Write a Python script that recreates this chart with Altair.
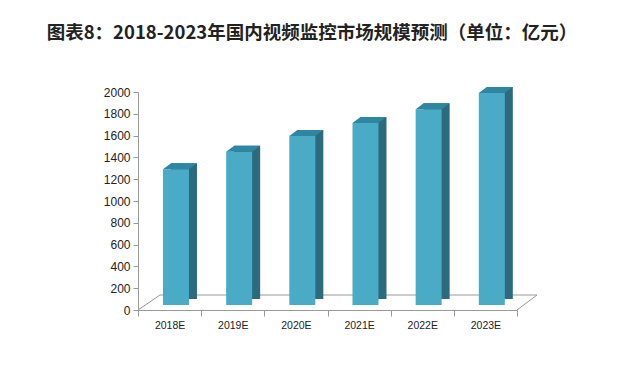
import altair as alt
import pandas as pd

years = ["2018E", "2019E", "2020E", "2021E", "2022E", "2023E"]
values = [1245, 1405, 1550, 1670, 1795, 1945]
ticks = [0, 200, 400, 600, 800, 1000, 1200, 1400, 1600, 1800, 2000]
title_text = "图表8：2018-2023年国内视频监控市场规模预测（单位：亿元）"

FRONT = "#4aabc6"
TOP = "#2f86a0"
SIDE = "#2b6b7d"
W, H = 379, 218

df = pd.DataFrame({"year": years, "value": values, "zero": [0] * len(years)})

x = alt.X("year:N", sort=years, title=None,
          scale=alt.Scale(paddingInner=0, paddingOuter=0),
          axis=alt.Axis(labelAngle=0, tickBand="extent", tickSize=6, tickColor="#999",
                        domainColor="#999", labelFontSize=10.5, labelColor="#222",
                        labelPadding=4, labelFont="Liberation Sans"))
yscale = alt.Scale(domain=[0, 2000], nice=False)
yaxis = alt.Axis(values=ticks, format="d", labelOverlap=False,
                 labelFlush=False, grid=False, tickSize=5,
                 tickColor="#999", domainColor="#999", labelFontSize=12,
                 labelColor="#222", labelPadding=3, labelFont="Liberation Sans")
y = alt.Y("value:Q", title=None, scale=yscale, axis=yaxis)
y0 = alt.Y("zero:Q", title=None, scale=yscale, axis=yaxis)

base = alt.Chart(df)

side = base.mark_bar(width=26, color=SIDE, xOffset=14.4, yOffset=-11).encode(x=x, y=y)
front = base.mark_bar(width=26, color=FRONT, xOffset=6.4, yOffset=-5).encode(x=x, y=y)
top = base.mark_point(shape="M -0.66 -0.5 L 1.94 -0.5 L 2.74 -1.1 L 0.14 -1.1 Z",
                      size=400, filled=True, color=TOP, opacity=1, strokeWidth=0).encode(x=x, y=y)
cut = base.mark_point(shape="M 1.94 -0.5 L 2.74 -1.1 L 2.74 -0.4 L 1.94 -0.4 Z",
                      size=400, filled=True, color="white", opacity=1, strokeWidth=0).encode(
    x=x, y=y0)

floor_df = pd.DataFrame({"x1": [0, 22, 399], "y1": [H, H - 15, H - 15],
                         "x2": [22, 399, 379], "y2": [H - 15, H - 15, H]})
floor = alt.Chart(floor_df).mark_rule(color="#999", strokeWidth=1).encode(
    x=alt.X("x1:Q", scale=None, axis=None), x2="x2:Q",
    y=alt.Y("y1:Q", scale=None, axis=None), y2="y2:Q")

title = alt.Chart(pd.DataFrame({"t": [title_text]})).mark_text(
    font="Noto Sans CJK SC", fontSize=18.5, fontWeight="bold", color="#222",
    align="center", baseline="middle").encode(
    text="t:N", x=alt.value(174), y=alt.value(-59))

chart = alt.layer(floor, side, front, top, cut, title).properties(
    width=W, height=H,
    background="white",
    autosize=alt.AutoSizeParams(type="none"),
    padding={"left": 130, "top": 84, "right": 98, "bottom": 49},
).configure_view(stroke=None)

chart.save("out.html", embed_options={"renderer": "svg", "actions": False})
